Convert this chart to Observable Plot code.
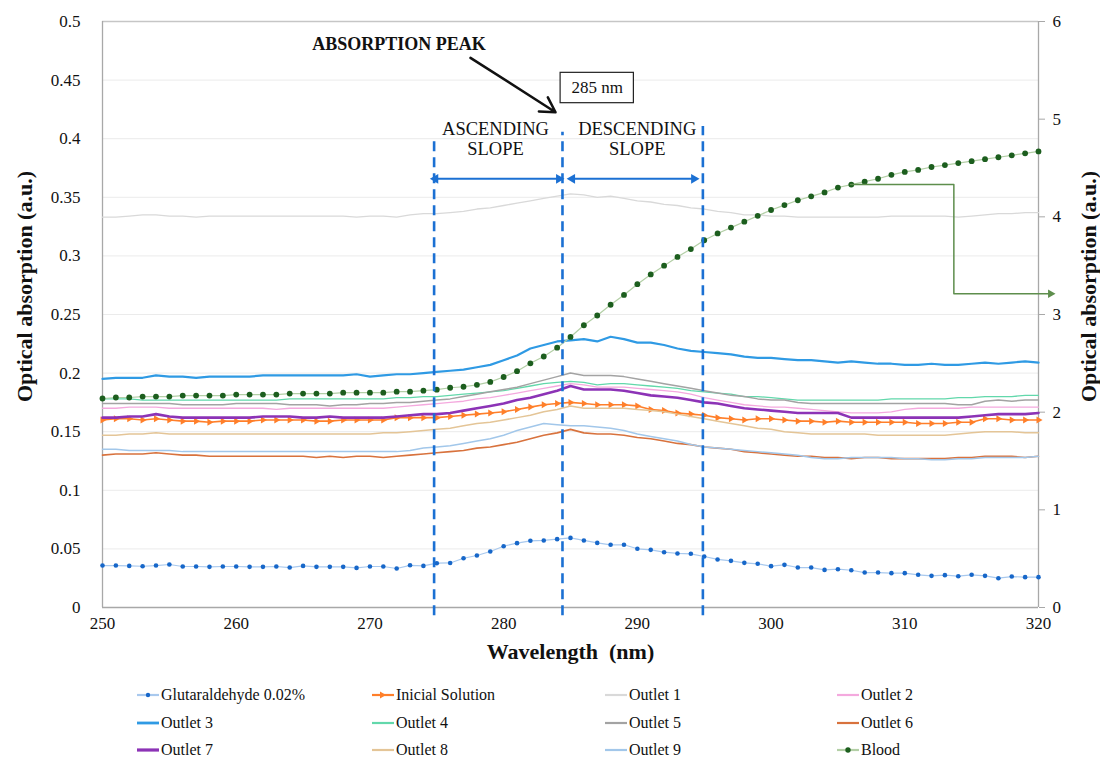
<!DOCTYPE html>
<html><head><meta charset="utf-8">
<script src="https://cdn.jsdelivr.net/npm/d3@7"></script>
<script src="https://cdn.jsdelivr.net/npm/@observablehq/plot@0.6"></script>
<style>
body{margin:0;background:#fff;font-family:"Liberation Serif","Times New Roman",serif;}
#chart{width:1100px;height:668px;}
#legend{position:relative;width:1100px;height:90px;}
.item{position:absolute;display:flex;align-items:center;font-size:16px;color:#111;height:20px;white-space:nowrap;}
.item svg{margin-right:1px;}
</style></head><body>
<div id="chart"></div><div id="legend"></div>
<script>
// ---------- DATA ----------
const wavelengths = [250,251,252,253,254,255,256,257,258,259,260,261,262,263,264,265,266,267,268,269,270,271,272,273,274,275,276,277,278,279,280,281,282,283,284,285,286,287,288,289,290,291,292,293,294,295,296,297,298,299,300,301,302,303,304,305,306,307,308,309,310,311,312,313,314,315,316,317,318,319,320];

const glutaraldehyde = [
0.0358,0.0358,0.0355,0.0352,0.0358,0.0367,0.0350,0.0350,0.0347,0.0350,
0.0350,0.0347,0.0347,0.0350,0.0341,0.0355,0.0347,0.0347,0.0347,0.0338,
0.0350,0.0350,0.0333,0.0360,0.0355,0.0378,0.0380,0.0420,0.0444,0.0478,
0.0523,0.0549,0.0569,0.0572,0.0583,0.0594,0.0572,0.0551,0.0535,0.0535,
0.0501,0.0492,0.0472,0.0461,0.0458,0.0435,0.0410,0.0398,0.0381,0.0373,
0.0353,0.0364,0.0341,0.0341,0.0321,0.0327,0.0318,0.0298,0.0298,0.0293,
0.0293,0.0279,0.0270,0.0276,0.0267,0.0279,0.0270,0.0250,0.0264,0.0259,
0.0259];

const inicialSolution = [
0.160,0.161,0.161,0.160,0.161,0.160,0.159,0.159,0.158,0.159,
0.159,0.159,0.160,0.160,0.160,0.160,0.159,0.159,0.160,0.160,
0.160,0.160,0.162,0.162,0.162,0.162,0.163,0.164,0.165,0.166,
0.167,0.169,0.171,0.173,0.174,0.175,0.174,0.173,0.173,0.173,
0.172,0.169,0.168,0.166,0.165,0.164,0.162,0.161,0.160,0.161,
0.161,0.160,0.159,0.159,0.158,0.159,0.158,0.158,0.158,0.158,
0.158,0.157,0.157,0.157,0.158,0.158,0.161,0.161,0.160,0.160,
0.160];

const outlet1 = [
0.333,0.333,0.334,0.335,0.335,0.334,0.334,0.333,0.334,0.334,
0.334,0.334,0.334,0.334,0.334,0.334,0.334,0.334,0.334,0.333,
0.334,0.334,0.333,0.335,0.336,0.336,0.337,0.338,0.340,0.341,
0.343,0.345,0.347,0.349,0.351,0.353,0.352,0.350,0.351,0.349,
0.347,0.346,0.344,0.343,0.341,0.340,0.338,0.337,0.335,0.335,
0.334,0.334,0.333,0.333,0.333,0.333,0.333,0.333,0.333,0.334,
0.334,0.334,0.334,0.334,0.333,0.334,0.335,0.336,0.336,0.337,
0.337];

const outlet2 = [
0.170,0.170,0.171,0.171,0.171,0.170,0.170,0.170,0.170,0.170,
0.170,0.170,0.170,0.169,0.170,0.170,0.170,0.170,0.170,0.170,
0.170,0.170,0.171,0.172,0.173,0.174,0.175,0.176,0.178,0.179,
0.181,0.183,0.185,0.187,0.189,0.191,0.190,0.188,0.188,0.188,
0.187,0.186,0.185,0.184,0.182,0.179,0.177,0.175,0.173,0.172,
0.171,0.171,0.170,0.169,0.168,0.167,0.166,0.166,0.166,0.167,
0.169,0.170,0.170,0.170,0.170,0.171,0.171,0.171,0.171,0.171,
0.171];

const outlet3 = [
0.195,0.196,0.196,0.196,0.198,0.197,0.197,0.196,0.197,0.197,
0.197,0.197,0.198,0.198,0.198,0.198,0.198,0.198,0.198,0.199,
0.197,0.198,0.199,0.199,0.200,0.201,0.202,0.203,0.205,0.207,
0.211,0.215,0.221,0.224,0.227,0.228,0.229,0.227,0.231,0.229,
0.226,0.226,0.224,0.221,0.219,0.218,0.217,0.216,0.214,0.213,
0.213,0.212,0.211,0.211,0.210,0.209,0.210,0.209,0.208,0.208,
0.207,0.207,0.208,0.207,0.207,0.208,0.209,0.208,0.209,0.210,
0.209];

const outlet4 = [
0.178,0.178,0.178,0.177,0.177,0.177,0.177,0.177,0.177,0.177,
0.177,0.177,0.177,0.177,0.178,0.178,0.178,0.178,0.178,0.178,
0.178,0.178,0.179,0.179,0.180,0.180,0.181,0.182,0.183,0.184,
0.185,0.187,0.189,0.191,0.192,0.193,0.192,0.190,0.191,0.191,
0.190,0.189,0.188,0.187,0.185,0.184,0.183,0.182,0.180,0.180,
0.179,0.178,0.177,0.177,0.177,0.177,0.177,0.177,0.177,0.178,
0.178,0.178,0.178,0.178,0.179,0.179,0.180,0.180,0.180,0.181,
0.181];

const outlet5 = [
0.174,0.174,0.174,0.174,0.174,0.174,0.173,0.173,0.173,0.173,
0.174,0.174,0.174,0.174,0.173,0.173,0.173,0.172,0.173,0.173,
0.174,0.174,0.175,0.175,0.176,0.177,0.178,0.180,0.182,0.184,
0.186,0.188,0.191,0.194,0.197,0.200,0.198,0.198,0.198,0.197,
0.195,0.193,0.191,0.189,0.187,0.185,0.183,0.181,0.180,0.178,
0.177,0.177,0.175,0.174,0.174,0.174,0.174,0.174,0.174,0.174,
0.174,0.174,0.174,0.174,0.173,0.173,0.176,0.177,0.176,0.177,
0.177];

const outlet6 = [
0.130,0.131,0.131,0.131,0.132,0.131,0.130,0.130,0.129,0.129,
0.129,0.129,0.129,0.129,0.129,0.129,0.128,0.129,0.128,0.129,
0.129,0.128,0.129,0.130,0.131,0.132,0.133,0.134,0.136,0.137,
0.139,0.141,0.144,0.147,0.149,0.152,0.149,0.148,0.148,0.147,
0.145,0.144,0.142,0.140,0.139,0.137,0.136,0.135,0.133,0.132,
0.131,0.130,0.129,0.129,0.128,0.128,0.127,0.128,0.128,0.127,
0.127,0.127,0.127,0.127,0.128,0.128,0.129,0.129,0.129,0.128,
0.129];

const outlet7 = [
0.162,0.162,0.163,0.163,0.165,0.163,0.162,0.162,0.162,0.162,
0.162,0.162,0.163,0.163,0.163,0.162,0.162,0.163,0.162,0.162,
0.162,0.162,0.163,0.164,0.165,0.165,0.166,0.168,0.170,0.172,
0.174,0.177,0.179,0.182,0.185,0.189,0.186,0.186,0.186,0.185,
0.183,0.181,0.180,0.179,0.177,0.175,0.174,0.172,0.170,0.169,
0.168,0.167,0.166,0.166,0.166,0.166,0.162,0.162,0.162,0.162,
0.162,0.162,0.162,0.162,0.162,0.163,0.164,0.165,0.165,0.165,
0.166];

const outlet8 = [
0.147,0.147,0.148,0.148,0.149,0.148,0.148,0.148,0.148,0.148,
0.148,0.148,0.148,0.148,0.148,0.148,0.148,0.148,0.148,0.148,
0.148,0.149,0.149,0.150,0.151,0.152,0.153,0.155,0.157,0.158,
0.160,0.162,0.164,0.167,0.169,0.172,0.170,0.170,0.170,0.170,
0.169,0.168,0.167,0.165,0.163,0.161,0.159,0.157,0.155,0.153,
0.152,0.150,0.149,0.148,0.148,0.148,0.148,0.148,0.147,0.147,
0.147,0.147,0.147,0.147,0.148,0.149,0.150,0.150,0.150,0.149,
0.149];

const outlet9 = [
0.135,0.135,0.134,0.134,0.134,0.134,0.133,0.133,0.133,0.133,
0.133,0.133,0.133,0.133,0.133,0.133,0.133,0.133,0.133,0.133,
0.133,0.133,0.133,0.134,0.136,0.137,0.138,0.140,0.142,0.144,
0.147,0.151,0.154,0.157,0.156,0.155,0.155,0.154,0.153,0.151,
0.148,0.146,0.144,0.142,0.139,0.137,0.136,0.135,0.134,0.133,
0.132,0.131,0.130,0.128,0.127,0.127,0.128,0.128,0.128,0.128,
0.127,0.127,0.126,0.126,0.127,0.127,0.128,0.128,0.128,0.128,
0.129];

// Blood is read on the right axis (0-6)
const blood = [
2.14,2.15,2.15,2.16,2.16,2.16,2.17,2.17,2.17,2.17,
2.18,2.18,2.18,2.18,2.19,2.19,2.19,2.19,2.20,2.20,
2.20,2.20,2.21,2.21,2.22,2.23,2.25,2.26,2.28,2.31,
2.36,2.42,2.50,2.57,2.66,2.77,2.89,2.99,3.10,3.20,
3.31,3.41,3.50,3.59,3.67,3.76,3.83,3.89,3.95,4.01,
4.07,4.12,4.17,4.21,4.25,4.30,4.33,4.36,4.39,4.43,
4.46,4.48,4.51,4.53,4.55,4.57,4.59,4.61,4.63,4.65,
4.67];

const leftTicks = [0,0.05,0.1,0.15,0.2,0.25,0.3,0.35,0.4,0.45,0.5];
const leftTickLabels = ["0","0.05","0.1","0.15","0.2","0.25","0.3","0.35","0.4","0.45","0.5"];
const rightTicks = [0,1,2,3,4,5,6];
const xTicks = [250,260,270,280,290,300,310,320];

const seriesNames = ["Glutaraldehyde 0.02%","Inicial Solution","Outlet 1","Outlet 2","Outlet 3","Outlet 4","Outlet 5","Outlet 6","Outlet 7","Outlet 8","Outlet 9","Blood"];

// annotations (data units)
const slopeLinesX = [274.8, 284.4, 294.9];
const slopeLinesTop = [0.401, 0.4055, 0.4104];
const slopeArrowsX1 = [274.9, 285.13];
const slopeArrowsX2 = [284.13, 294.23];
const slopeArrowY = 0.3658;
const slopeLabels = ["ASCENDING\nSLOPE","DESCENDING\nSLOPE"];
const slopeLabelX = [279.39, 289.99];
const slopeLabelY = 0.4003;
const peakLabel = "ABSORPTION PEAK";
const peakLabelPos = [272.18, 0.481];
const peakArrow = [277.52, 0.469, 283.88, 0.4226];
const boxLabel = "285 nm";
const boxPos = [284.26, 0.4303, 289.74, 0.4562];
const calloutX = [305.95, 313.67, 313.67, 320.9];
const calloutY = [0.3609, 0.3609, 0.2677, 0.2677];

// ---------- STYLES ----------
const styles = {
  "Glutaraldehyde 0.02%": {stroke:"#a9c9ee", w:1.2},
  "Inicial Solution": {stroke:"#ff7f2a", w:1.6},
  "Outlet 1": {stroke:"#d9d9d9", w:1.3},
  "Outlet 2": {stroke:"#f4a9de", w:1.3},
  "Outlet 3": {stroke:"#2f9ae4", w:2.2},
  "Outlet 4": {stroke:"#62d8ab", w:1.3},
  "Outlet 5": {stroke:"#a3a3a3", w:1.5},
  "Outlet 6": {stroke:"#d8723d", w:1.6},
  "Outlet 7": {stroke:"#8c33b6", w:2.6},
  "Outlet 8": {stroke:"#e4c597", w:1.5},
  "Outlet 9": {stroke:"#a2c7ea", w:1.5},
  "Blood": {stroke:"#b3cfa6", w:1.2}
};
const glutDot = "#1767c9", bloodDot = "#1c5e1e", dashBlue = "#1b70d3";

const valuesByName = {
  "Glutaraldehyde 0.02%": glutaraldehyde, "Inicial Solution": inicialSolution,
  "Outlet 1": outlet1, "Outlet 2": outlet2, "Outlet 3": outlet3, "Outlet 4": outlet4,
  "Outlet 5": outlet5, "Outlet 6": outlet6, "Outlet 7": outlet7, "Outlet 8": outlet8,
  "Outlet 9": outlet9, "Blood": blood
};
const rowsOf = name => wavelengths.map((nm, i) => ({nm, v: valuesByName[name][i]}));

const serif = "Liberation Serif, Times New Roman, serif";
const marks = [];
// gridlines
marks.push(Plot.ruleY(leftTicks.slice(1, -1), {stroke:"#ebebeb", strokeWidth:1}));
marks.push(Plot.ruleY([leftTicks[leftTicks.length-1]], {stroke:"#c6c6c6", strokeWidth:1.5}));
// frame
marks.push(Plot.ruleX([xTicks[0], xTicks[xTicks.length-1]], {stroke:"#a8a8a8", strokeWidth:1.3}));
marks.push(Plot.ruleY([0], {stroke:"#a8a8a8", strokeWidth:1.3}));
// axes
marks.push(Plot.axisY(leftTicks, {anchor:"left", tickSize:0, tickPadding:22, tickFormat:(d,i)=>leftTickLabels[i], fontSize:17}));
marks.push(Plot.axisY(rightTicks.map(v => v/12), {anchor:"right", tickSize:6, tickPadding:8, stroke:"#a8a8a8", tickFormat:(d,i)=>String(rightTicks[i]), fontSize:17}));
marks.push(Plot.axisX(xTicks, {anchor:"bottom", tickSize:0, tickPadding:9, tickFormat:d=>String(d), fontSize:17}));
// axis titles
marks.push(Plot.text(["Optical absorption (a.u.)"], {frameAnchor:"left", textAnchor:"middle", dx:-78, dy:-28, rotate:-90, fontWeight:"bold", fontSize:22}));
marks.push(Plot.text(["Optical absorption (a.u.)"], {frameAnchor:"right", textAnchor:"middle", dx:50, dy:-28, rotate:-90, fontWeight:"bold", fontSize:22}));
marks.push(Plot.text(["Wavelength\u00a0 (nm)"], {frameAnchor:"bottom", dy:51, fontWeight:"bold", fontSize:22}));

// series lines
for (const name of seriesNames) {
  const st = styles[name];
  const rows = rowsOf(name);
  const yAcc = name === "Blood" ? (d => d.v / 12) : "v";
  marks.push(Plot.line(rows, {x:"nm", y:yAcc, stroke:st.stroke, strokeWidth:st.w, curve:"linear"}));
  if (name === "Glutaraldehyde 0.02%") marks.push(Plot.dot(rows, {x:"nm", y:"v", r:2.3, fill:glutDot}));
  if (name === "Inicial Solution") marks.push(Plot.dot(rows, {x:"nm", y:"v", symbol:"triangle", rotate:90, r:2.6, fill:st.stroke}));
  if (name === "Blood") marks.push(Plot.dot(rows, {x:"nm", y:yAcc, r:2.9, fill:bloodDot}));
}

// annotations
marks.push(Plot.ruleX(slopeLinesX, {x:d=>d, y1:-0.007, y2:(d,i)=>slopeLinesTop[i], stroke:dashBlue, strokeWidth:2.6, strokeDasharray:"10,6"}));
marks.push(Plot.link(slopeArrowsX1, {x1:d=>d, x2:(d,i)=>slopeArrowsX2[i], y1:slopeArrowY, y2:slopeArrowY, stroke:dashBlue, strokeWidth:2}));
marks.push(Plot.dot(slopeArrowsX1, {x:d=>d, y:slopeArrowY, symbol:"triangle", rotate:-90, r:3.6, fill:dashBlue}));
marks.push(Plot.dot(slopeArrowsX2, {x:d=>d, y:slopeArrowY, symbol:"triangle", rotate:90, r:3.6, fill:dashBlue}));
marks.push(Plot.text(slopeLabels, {x:(d,i)=>slopeLabelX[i], y:slopeLabelY, fontSize:18.5, lineHeight:1.13, fill:"#111"}));
marks.push(Plot.text([peakLabel], {x:peakLabelPos[0], y:peakLabelPos[1], fontSize:18, fontWeight:"bold", fill:"#111"}));
marks.push(Plot.arrow([peakArrow], {x1:d=>d[0], y1:d=>d[1], x2:d=>d[2], y2:d=>d[3], stroke:"#111", strokeWidth:2.5, headLength:10}));
marks.push(Plot.rect([boxPos], {x1:d=>d[0], y1:d=>d[1], x2:d=>d[2], y2:d=>d[3], fill:"white", stroke:"#222", strokeWidth:1.2}));
marks.push(Plot.text([boxLabel], {x:(boxPos[0]+boxPos[2])/2, y:(boxPos[1]+boxPos[3])/2, fontSize:17, fill:"#111"}));
marks.push(Plot.line(calloutX.map((x,i)=>({x, y:calloutY[i]})), {x:"x", y:"y", stroke:"#5e8e4d", strokeWidth:1.5}));
marks.push(Plot.dot([calloutX[calloutX.length-1]], {x:d=>d, y:calloutY[calloutY.length-1], symbol:"triangle", rotate:90, r:3.2, fill:"#5e8e4d"}));

const chart = Plot.plot({
  width: 1100, height: 668,
  marginLeft: 102, marginRight: 62, marginTop: 21, marginBottom: 61,
  x: {domain:[250,320]},
  y: {domain:[0,0.5]},
  style: {fontFamily: serif, fontSize:"17px", color:"#111", background:"white", overflow:"visible"},
  marks
});
document.getElementById("chart").appendChild(chart);

// legend
const legend = document.getElementById("legend");
const colX = [137, 372, 605, 837];
const rowY = [27, 55, 82];
seriesNames.forEach((name, i) => {
  const st = styles[name];
  const c = i % 4, r = Math.floor(i / 4);
  const div = document.createElement("div");
  div.className = "item";
  div.style.left = colX[c] + "px";
  div.style.top = (rowY[r] - 10) + "px";
  let icon = `<line x1="0" y1="10" x2="22" y2="10" stroke="${st.stroke}" stroke-width="${Math.max(st.w,1.6)+0.6}"/>`;
  if (name === "Glutaraldehyde 0.02%") icon += `<circle cx="11" cy="10" r="2.2" fill="${glutDot}"/>`;
  if (name === "Inicial Solution") icon += `<path d="M8,6.5 L14,10 L8,13.5 Z" fill="${st.stroke}"/>`;
  if (name === "Blood") icon += `<circle cx="11" cy="10" r="2.7" fill="${bloodDot}"/>`;
  div.innerHTML = `<svg width="23" height="20">${icon}</svg><span>${name}</span>`;
  legend.appendChild(div);
});
</script>
</body></html>
